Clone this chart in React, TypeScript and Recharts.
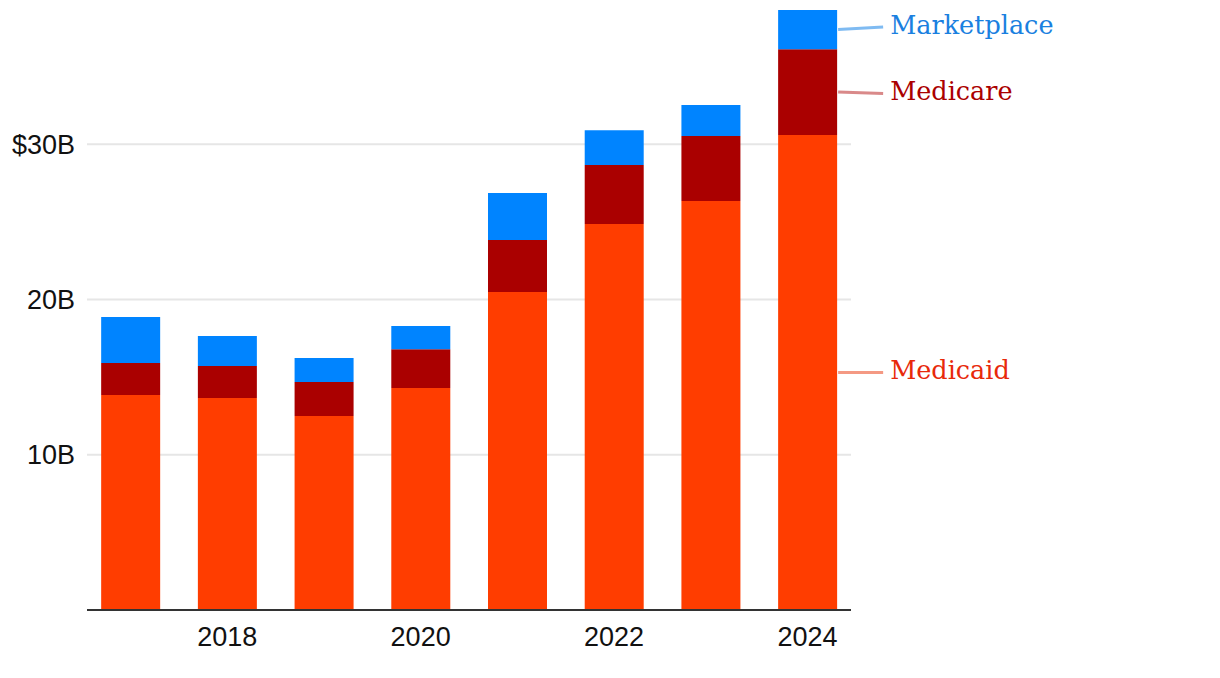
import { BarChart, Bar, XAxis, YAxis, CartesianGrid, LabelList } from 'recharts';

const years = [2017, 2018, 2019, 2020, 2021, 2022, 2023, 2024];
// billions of dollars, stacked bottom to top
const medicaid = [13.85, 13.65, 12.49, 14.3, 20.48, 24.86, 26.34, 30.59];
const medicare = [2.05, 2.06, 2.19, 2.5, 3.35, 3.79, 4.18, 5.53];
const marketplace = [2.97, 1.93, 1.55, 1.49, 3.02, 2.25, 2.0, 2.52];

const yTicks = [10, 20, 30];
const xTicks = [2018, 2020, 2022, 2024];

const data = years.map((year, i) => ({
  year,
  medicaid: medicaid[i],
  medicare: medicare[i],
  marketplace: marketplace[i],
}));

const SERIES = [
  { key: 'medicaid', name: 'Medicaid', fill: '#ff3d00', text: '#e8290a', line: 'rgba(235,70,30,0.55)', shift: 0 },
  { key: 'medicare', name: 'Medicare', fill: '#aa0000', text: '#ab0000', line: 'rgba(180,20,20,0.5)', shift: 1.5 },
  { key: 'marketplace', name: 'Marketplace', fill: '#0084ff', text: '#1a80e0', line: 'rgba(0,120,230,0.5)', shift: -2.5 },
];

const SANS = '"Liberation Sans", Arial, sans-serif';
const SERIF = '"DejaVu Serif", serif';

function makeLabel(s: (typeof SERIES)[number]) {
  return (props: any) => {
    const { x, y, width, height, index } = props;
    if (index !== years.length - 1) return null;
    const x0 = Number(x) + Number(width) + 1;
    const y0 = Number(y) + Number(height) / 2;
    const x1 = x0 + 45;
    const y1 = y0 + s.shift;
    return (
      <g>
        <line x1={x0} y1={y0} x2={x1} y2={y1} stroke={s.line} strokeWidth={3} />
        <text x={x1 + 7} y={y1 + 6.5} fill={s.text} fontFamily={SERIF} fontSize={25.5}>
          {s.name}
        </text>
      </g>
    );
  };
}

const yFormat = (v: number) => (v === 30 ? `$${v}B` : `${v}B`);

export default function App() {
  return (
    <div style={{ position: 'absolute', left: 0, top: 0, width: 1220, height: 678, background: '#fff' }}>
      <BarChart
        width={1220}
        height={678}
        data={data}
        margin={{ top: 10, right: 369, bottom: 0, left: 0 }}
      >
        <CartesianGrid vertical={false} horizontalValues={yTicks} stroke="#e6e6e6" strokeWidth={2} />
        <XAxis
          dataKey="year"
          type="number"
          domain={[2016.55, 2024.45]}
          ticks={xTicks}
          height={68}
          tickLine={false}
          tickSize={0}
          tickMargin={17}
          axisLine={{ stroke: '#333', strokeWidth: 2 }}
          tick={{ fill: '#111', fontSize: 27, fontFamily: SANS }}
        />
        <YAxis
          domain={[0, 'dataMax']}
          ticks={yTicks}
          width={87}
          tickLine={false}
          axisLine={false}
          tickSize={0}
          tickMargin={12}
          tickFormatter={yFormat}
          tick={{ fill: '#111', fontSize: 27, fontFamily: SANS }}
        />
        {SERIES.map((s) => (
          <Bar key={s.key} dataKey={s.key} stackId="a" fill={s.fill} barSize={59} isAnimationActive={false}>
            <LabelList dataKey={s.key} content={makeLabel(s)} />
          </Bar>
        ))}
      </BarChart>
    </div>
  );
}
